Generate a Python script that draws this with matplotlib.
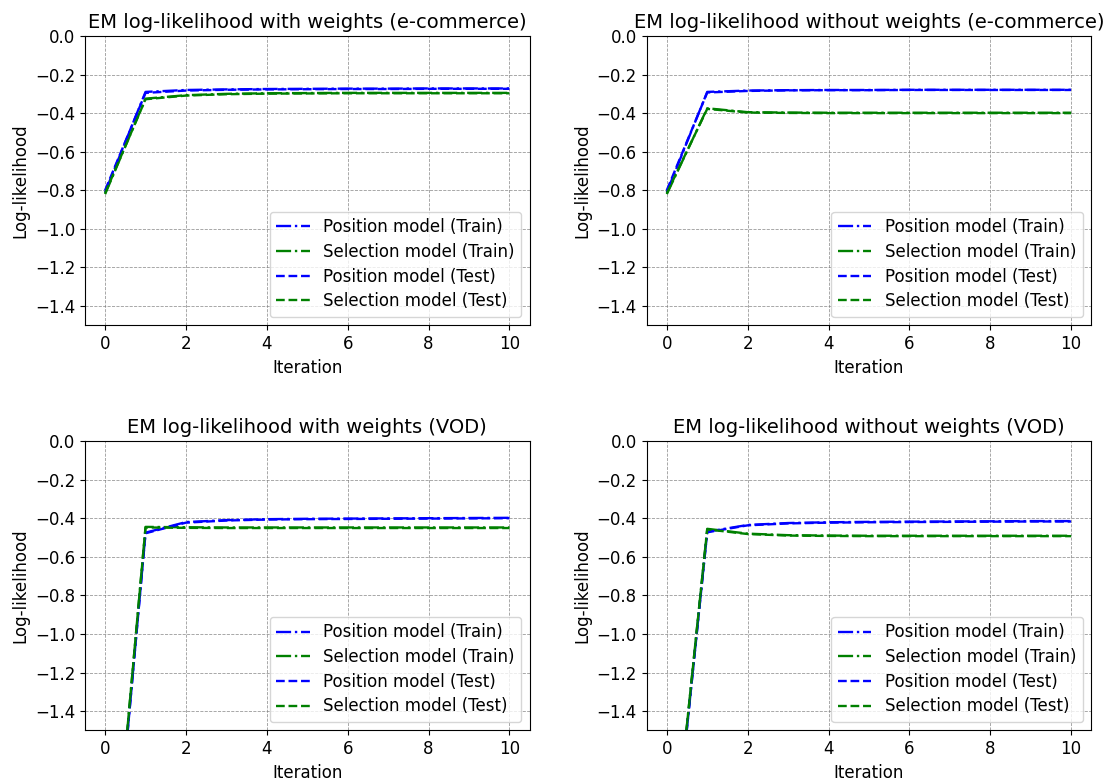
import matplotlib
matplotlib.use("Agg")
import matplotlib.pyplot as plt
import numpy as np

iterations = list(range(11))

# e-commerce, with weights
ec_w_pos_train = [-0.81, -0.290, -0.280, -0.277, -0.275, -0.274, -0.273, -0.273, -0.272, -0.272, -0.272]
ec_w_sel_train = [-0.82, -0.325, -0.307, -0.300, -0.297, -0.296, -0.295, -0.295, -0.295, -0.295, -0.295]
ec_w_pos_test = [-0.80, -0.295, -0.283, -0.279, -0.277, -0.276, -0.275, -0.275, -0.274, -0.274, -0.274]
ec_w_sel_test = [-0.815, -0.328, -0.309, -0.302, -0.299, -0.298, -0.297, -0.297, -0.297, -0.297, -0.297]

# e-commerce, without weights
ec_nw_pos_train = [-0.81, -0.290, -0.283, -0.281, -0.280, -0.280, -0.279, -0.279, -0.279, -0.279, -0.279]
ec_nw_sel_train = [-0.82, -0.375, -0.395, -0.397, -0.398, -0.398, -0.398, -0.398, -0.398, -0.398, -0.398]
ec_nw_pos_test = [-0.80, -0.293, -0.285, -0.282, -0.281, -0.281, -0.280, -0.280, -0.280, -0.280, -0.280]
ec_nw_sel_test = [-0.815, -0.378, -0.397, -0.399, -0.400, -0.400, -0.400, -0.400, -0.400, -0.400, -0.400]

# VOD, with weights
vod_w_pos_train = [-2.80, -0.475, -0.420, -0.410, -0.405, -0.403, -0.402, -0.401, -0.400, -0.399, -0.398]
vod_w_sel_train = [-2.78, -0.445, -0.447, -0.448, -0.448, -0.448, -0.448, -0.448, -0.448, -0.448, -0.448]
vod_w_pos_test = [-2.80, -0.478, -0.423, -0.412, -0.407, -0.405, -0.404, -0.403, -0.402, -0.401, -0.400]
vod_w_sel_test = [-2.78, -0.448, -0.450, -0.451, -0.451, -0.451, -0.451, -0.451, -0.451, -0.451, -0.451]

# VOD, without weights
vod_nw_pos_train = [-2.50, -0.470, -0.435, -0.425, -0.421, -0.419, -0.418, -0.417, -0.416, -0.415, -0.415]
vod_nw_sel_train = [-2.48, -0.455, -0.480, -0.488, -0.490, -0.491, -0.491, -0.491, -0.491, -0.491, -0.491]
vod_nw_pos_test = [-2.50, -0.473, -0.437, -0.427, -0.423, -0.421, -0.420, -0.419, -0.418, -0.417, -0.417]
vod_nw_sel_test = [-2.48, -0.458, -0.482, -0.490, -0.492, -0.493, -0.493, -0.493, -0.493, -0.493, -0.493]

titles = ["EM log-likelihood with weights (e-commerce)",
          "EM log-likelihood without weights (e-commerce)",
          "EM log-likelihood with weights (VOD)",
          "EM log-likelihood without weights (VOD)"]

panels = [
    (ec_w_pos_train, ec_w_sel_train, ec_w_pos_test, ec_w_sel_test),
    (ec_nw_pos_train, ec_nw_sel_train, ec_nw_pos_test, ec_nw_sel_test),
    (vod_w_pos_train, vod_w_sel_train, vod_w_pos_test, vod_w_sel_test),
    (vod_nw_pos_train, vod_nw_sel_train, vod_nw_pos_test, vod_nw_sel_test),
]

fig, axes = plt.subplots(2, 2, figsize=(11.17, 7.82), dpi=100)
plt.subplots_adjust(left=0.076, right=0.977, top=0.954, bottom=0.066,
                    wspace=0.263, hspace=0.40)

for ax, title, (pt, st, pte, ste) in zip(axes.flat, titles, panels):
    ax.plot(iterations, pt, color="blue", linestyle="-.", lw=1.7, label="Position model (Train)")
    ax.plot(iterations, st, color="green", linestyle="-.", lw=1.7, label="Selection model (Train)")
    ax.plot(iterations, pte, color="blue", linestyle="--", lw=1.7, label="Position model (Test)")
    ax.plot(iterations, ste, color="green", linestyle="--", lw=1.7, label="Selection model (Test)")
    ax.set_ylim(-1.5, 0)
    ax.set_yticks(np.arange(-1.4, 0.01, 0.2))
    ax.set_xticks(range(0, 11, 2))
    ax.set_title(title, fontsize=14)
    ax.set_xlabel("Iteration", fontsize=12)
    ax.set_ylabel("Log-likelihood", fontsize=12)
    ax.tick_params(labelsize=12)
    ax.grid(True, linestyle="--", color="gray", linewidth=0.6, alpha=0.8)
    ax.legend(loc="lower right", fontsize=12, labelspacing=0.4)

plt.savefig("out.png", dpi=100)
